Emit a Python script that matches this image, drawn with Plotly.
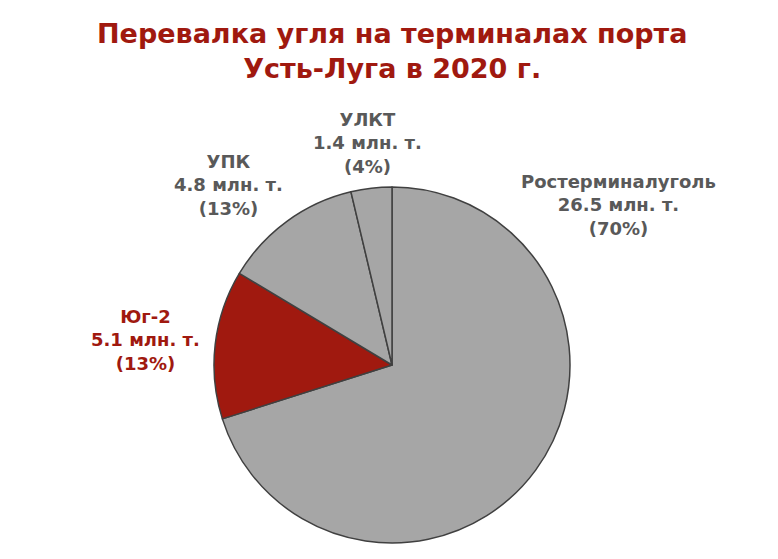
import plotly.graph_objects as go

terminals = ["Ростерминалуголь", "Юг-2", "УПК", "УЛКТ"]
volumes = [26.5, 5.1, 4.8, 1.4]  # млн. т.
slice_colors = ["#A6A6A6", "#A0190F", "#A6A6A6", "#A6A6A6"]
label_colors = ["#595959", "#A0190F", "#595959", "#595959"]

W, H = 778, 559
OFF = 8  # page body margin offset


def px(x):
    return (x - OFF) / W


def py(y):
    return 1 - (y - OFF) / H


label_pos = [(px(618), py(205)), (px(145), py(340)), (px(228), py(185)), (px(367), py(143))]

total = sum(volumes)
font_family = "DejaVu Sans, Verdana, sans-serif"

fig = go.Figure(go.Pie(
    labels=terminals,
    values=volumes,
    sort=False,
    direction="clockwise",
    rotation=0,
    marker=dict(colors=slice_colors, line=dict(color="#404040", width=1.5)),
    textinfo="none",
    hoverinfo="label+value+percent",
    showlegend=False,
    domain=dict(x=[px(214), px(570)], y=[py(543), py(187)]),
))

for name, v, c, (x, y) in zip(terminals, volumes, label_colors, label_pos):
    pct = round(v / total * 100)
    fig.add_annotation(
        x=x, y=y, xref="paper", yref="paper", xanchor="center", yanchor="middle",
        text=f"<b>{name}<br>{v} млн. т.<br>({pct}%)</b>",
        showarrow=False, align="center",
        font=dict(family=font_family, size=18, color=c),
    )

fig.add_annotation(
    x=px(392), y=py(51), xref="paper", yref="paper",
    xanchor="center", yanchor="middle",
    text="<b>Перевалка угля на терминалах порта<br>Усть-Луга в 2020 г.</b>",
    showarrow=False, align="center",
    font=dict(family=font_family, size=27, color="#A0190F"),
)

fig.update_layout(
    width=W, height=H,
    margin=dict(l=0, r=0, t=0, b=0),
    paper_bgcolor="white", plot_bgcolor="white",
)

fig.write_html("out.html")
